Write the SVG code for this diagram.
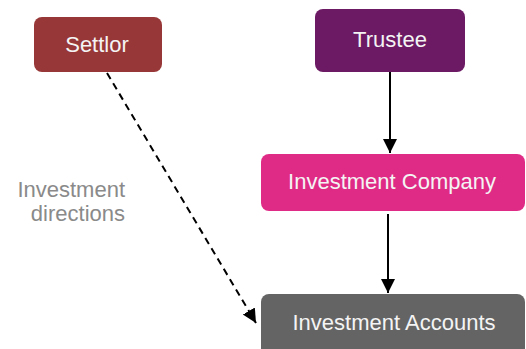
<svg xmlns="http://www.w3.org/2000/svg" width="526" height="349" viewBox="0 0 526 349">
<style>
.lbl{font-family:"Liberation Sans",Arial,sans-serif;font-size:22px;fill:#f4f4f4;text-anchor:middle}
.note{font-family:"Liberation Sans",Arial,sans-serif;font-size:22px;fill:#8a8a8a;text-anchor:end}
.edge{stroke:#000;stroke-width:2;fill:none}
</style>
<defs>
<marker id="ah" markerWidth="14" markerHeight="16" refX="14" refY="7" orient="auto" markerUnits="userSpaceOnUse" viewBox="0 0 14 14">
<path d="M0,0 L14,7 L0,14 Z" fill="#000"/>
</marker>
</defs>
<rect width="526" height="349" fill="#fff"/>
<g id="connectors">
<line class="edge" x1="390" y1="72" x2="390" y2="153" marker-end="url(#ah)"/>
<line class="edge" x1="388" y1="214" x2="388" y2="293" marker-end="url(#ah)"/>
<line class="edge" x1="107" y1="73" x2="256" y2="323" stroke-dasharray="7,5" marker-end="url(#ah)"/>
</g>
<g id="settlor">
<rect x="34" y="17" width="128" height="55" rx="8" fill="#983737"/>
<text class="lbl" x="97" y="52">Settlor</text>
</g>
<g id="trustee">
<rect x="315" y="9" width="150" height="63" rx="8" fill="#6b1a63"/>
<text class="lbl" x="390" y="47">Trustee</text>
</g>
<g id="investment-company">
<rect x="261" y="154" width="264" height="57" rx="8" fill="#e02b86"/>
<text class="lbl" x="392" y="189">Investment Company</text>
</g>
<g id="investment-accounts">
<rect x="261" y="294" width="264" height="70" rx="8" fill="#646464"/>
<text class="lbl" x="394" y="330">Investment Accounts</text>
</g>
<g id="label">
<text class="note" x="125" y="197">Investment</text>
<text class="note" x="125" y="221">directions</text>
</g>
</svg>
